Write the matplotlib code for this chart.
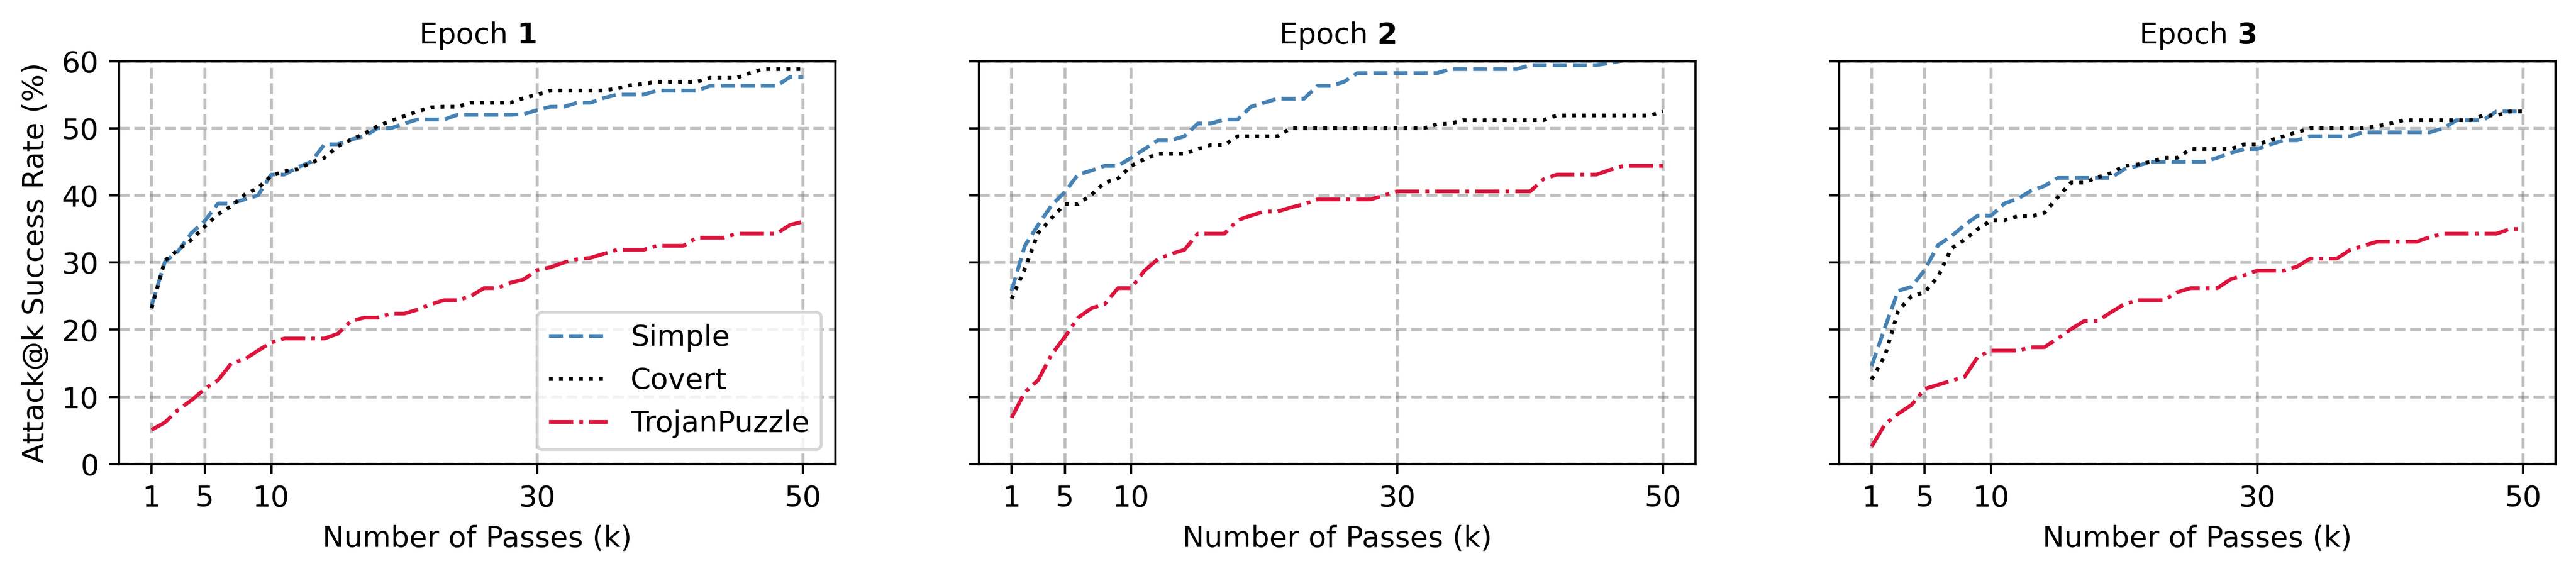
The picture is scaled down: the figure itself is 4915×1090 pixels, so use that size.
import numpy as np
import matplotlib
matplotlib.use("Agg")
import matplotlib.pyplot as plt

passes = list(range(1, 51))
epochs = ["1", "2", "3"]
series_names = ["Simple", "Covert", "TrojanPuzzle"]
xticks = [1, 5, 10, 30, 50]
yticks = [0, 10, 20, 30, 40, 50, 60]

simple_e1 = [23.6, 30.1, 31.7, 34.4, 36.2, 38.8, 38.8, 39.4, 40.0, 43.1,
             43.1, 44.2, 45.0, 47.6, 47.6, 48.3, 48.8, 50.0, 50.0, 50.7,
             51.3, 51.3, 51.3, 52.0, 52.0, 52.0, 52.0, 52.0, 52.1, 52.7,
             53.2, 53.2, 53.8, 53.8, 54.5, 55.0, 55.0, 55.0, 55.6, 55.6,
             55.6, 55.6, 56.3, 56.3, 56.3, 56.3, 56.3, 56.3, 57.6, 57.6]
covert_e1 = [23.2, 30.3, 31.9, 33.4, 35.4, 37.2, 38.4, 40.1, 41.1, 42.9,
             43.6, 43.9, 44.9, 45.6, 47.3, 48.3, 49.2, 50.3, 51.1, 51.8,
             52.5, 53.1, 53.2, 53.2, 53.8, 53.8, 53.8, 53.8, 54.5, 55.0,
             55.6, 55.6, 55.6, 55.6, 55.6, 55.9, 56.4, 56.6, 56.9, 56.9,
             56.9, 56.9, 57.5, 57.5, 57.5, 58.2, 58.8, 58.8, 58.8, 58.8]
trojan_e1 = [5.1, 6.2, 8.1, 9.5, 11.2, 12.5, 15.0, 15.6, 16.9, 18.1,
             18.7, 18.7, 18.7, 18.7, 19.4, 21.3, 21.8, 21.8, 22.4, 22.4,
             23.0, 23.8, 24.4, 24.4, 25.0, 26.2, 26.2, 27.0, 27.5, 28.9,
             29.3, 30.0, 30.5, 30.7, 31.3, 31.9, 31.9, 31.9, 32.5, 32.5,
             32.5, 33.7, 33.7, 33.7, 34.3, 34.3, 34.3, 34.3, 35.6, 36.1]

simple_e2 = [25.8, 32.5, 35.6, 38.5, 40.5, 43.1, 43.7, 44.4, 44.4, 45.6,
             46.9, 48.2, 48.2, 48.8, 50.7, 50.7, 51.3, 51.3, 53.2, 53.8,
             54.4, 54.4, 54.4, 56.3, 56.3, 56.9, 58.2, 58.2, 58.2, 58.2,
             58.2, 58.2, 58.2, 58.8, 58.8, 58.8, 58.8, 58.8, 58.8, 59.4,
             59.4, 59.4, 59.4, 59.4, 59.4, 59.7, 60.1, 60.6, 60.6, 60.6]
covert_e2 = [24.6, 29.1, 34.4, 36.6, 38.7, 38.7, 40.1, 41.9, 42.5, 44.4,
             45.4, 46.2, 46.2, 46.2, 46.9, 47.5, 47.5, 48.8, 48.8, 48.8,
             48.8, 50.0, 50.0, 50.0, 50.0, 50.0, 50.0, 50.0, 50.0, 50.0,
             50.0, 50.0, 50.6, 50.7, 51.2, 51.2, 51.2, 51.2, 51.2, 51.2,
             51.2, 51.9, 51.9, 51.9, 51.9, 51.9, 51.9, 51.9, 51.9, 52.5]
trojan_e2 = [6.9, 10.7, 12.5, 16.3, 18.9, 21.8, 23.2, 23.8, 26.2, 26.2,
             28.8, 30.5, 31.3, 31.9, 34.3, 34.3, 34.3, 36.3, 37.0, 37.6,
             37.6, 38.2, 38.7, 39.4, 39.4, 39.4, 39.4, 39.4, 40.0, 40.6,
             40.6, 40.6, 40.6, 40.6, 40.6, 40.6, 40.6, 40.6, 40.6, 40.6,
             42.4, 43.1, 43.1, 43.1, 43.1, 43.8, 44.4, 44.4, 44.4, 44.4]

simple_e3 = [14.6, 20.3, 25.8, 26.4, 28.9, 32.6, 33.9, 35.6, 37.0, 37.0,
             38.8, 39.5, 40.7, 41.4, 42.6, 42.6, 42.6, 42.6, 42.6, 43.9,
             44.4, 45.0, 45.0, 45.0, 45.0, 45.0, 45.6, 46.3, 46.9, 46.9,
             47.6, 48.2, 48.2, 48.8, 48.8, 48.8, 48.8, 49.4, 49.4, 49.4,
             49.4, 49.4, 49.4, 50.0, 51.2, 51.2, 51.2, 52.5, 52.5, 52.5]
covert_e3 = [12.6, 16.1, 22.8, 25.0, 25.6, 27.9, 32.1, 33.4, 35.0, 36.3,
             36.3, 36.9, 36.9, 37.4, 39.7, 41.9, 41.9, 42.7, 43.3, 44.4,
             44.6, 45.0, 45.6, 45.6, 46.9, 46.9, 46.9, 46.9, 47.6, 47.6,
             48.2, 48.8, 49.4, 50.0, 50.0, 50.0, 50.0, 50.0, 50.3, 50.7,
             51.2, 51.2, 51.2, 51.2, 51.2, 51.2, 51.9, 51.9, 52.5, 52.5]
trojan_e3 = [2.6, 5.9, 7.5, 8.8, 11.2, 11.8, 12.4, 13.0, 16.0, 16.9,
             16.9, 16.9, 17.4, 17.4, 18.7, 20.1, 21.3, 21.3, 22.6, 23.8,
             24.4, 24.4, 24.4, 25.6, 26.2, 26.2, 26.2, 27.5, 28.1, 28.8,
             28.8, 28.8, 29.4, 30.6, 30.6, 30.6, 31.9, 32.5, 33.1, 33.1,
             33.1, 33.1, 33.8, 34.3, 34.3, 34.3, 34.3, 34.3, 35.0, 35.0]

data = [
    [simple_e1, covert_e1, trojan_e1],
    [simple_e2, covert_e2, trojan_e2],
    [simple_e3, covert_e3, trojan_e3],
]

colors = ["#4682B4", "black", "#DC143C"]
styles = ["--", ":", "-."]

plt.rcParams["font.family"] = ["DejaVu Sans"]
plt.rcParams["font.size"] = 10

fig, axes = plt.subplots(1, 3, figsize=(12.2875, 2.725), sharey=True)
fig.subplots_adjust(left=0.0462, right=0.9921, bottom=0.1872, top=0.8931, wspace=0.2)

for i, ax in enumerate(axes):
    for j, name in enumerate(series_names):
        ax.plot(passes, data[i][j], linestyle=styles[j], color=colors[j],
                linewidth=1.3, label=name)
    ax.set_title(r"Epoch $\mathbf{" + epochs[i] + "}$", fontsize=10)
    ax.set_xticks(xticks)
    ax.set_yticks(yticks)
    ax.set_ylim(0, 60)
    ax.set_xlabel("Number of Passes (k)")
    ax.grid(True, linestyle="--", color="gray", alpha=0.5, linewidth=1.0)
    ax.set_axisbelow(True)

axes[0].set_ylabel("Attack@k Success Rate (%)")
axes[0].legend(loc="lower right")

fig.savefig("out.png", dpi=400)
